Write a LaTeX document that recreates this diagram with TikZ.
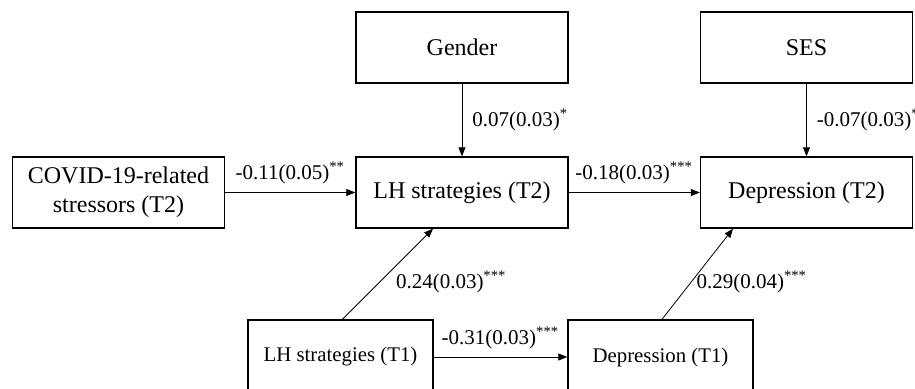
\documentclass[tikz,border=0pt]{standalone}
\usepackage{fontspec}
\setmainfont{Liberation Serif}
\usetikzlibrary{arrows.meta}
\tikzset{
  box/.style={draw,line width=0.7pt,minimum width=106pt,minimum height=35.5pt,align=center,inner sep=2pt,font=\fontsize{12}{14.5}\selectfont},
  lowbox/.style={box,minimum width=92.5pt,minimum height=37pt,font=\fontsize{10.4}{12.5}\selectfont},
  coef/.style={inner sep=1pt,font=\fontsize{10.5}{12}\selectfont},
  >={Triangle[length=4.5pt,width=3.5pt]}
}
\begin{document}
\begin{tikzpicture}[x=0.5pt,y=-0.5pt]
            \useasboundingbox (0,0) rectangle (915,389);
            \node[box] (G) at (462,47.5) {Gender};
            \node[box] (S) at (806.5,47.5) {SES};
            \node[box] (C) at (118.5,192.5) {COVID-19-related\\stressors (T2)};
            \node[box] (L2) at (462,192.5) {LH strategies (T2)};
            \node[box] (D2) at (806.5,192.5) {Depression (T2)};
            \node[lowbox] (L1) at (340.5,357) {LH strategies (T1)};
            \node[lowbox] (D1) at (660.5,357) {Depression (T1)};
            
            \path [->,line width=0.4pt] (G) edge node[coef,right=4pt] {0.07(0.03)\textsuperscript{*}} (L2);
            \path [->,line width=0.4pt] (S) edge node[coef,right=4pt] {-0.07(0.03)\textsuperscript{*}} (D2);
            \path [->,line width=0.4pt] (C) edge node[coef,above=3pt] {-0.11(0.05)\textsuperscript{**}} (L2);
            \path [->,line width=0.4pt] (L2) edge node[coef,above=3pt] {-0.18(0.03)\textsuperscript{***}} (D2);
            \path [->,line width=0.4pt] (L1) edge node[coef,above=3pt] {-0.31(0.03)\textsuperscript{***}} (D1);
            \path [->,line width=0.4pt] ([xshift=1pt]L1.north) edge node[coef,pos=0.41,right=7pt] {0.24(0.03)\textsuperscript{***}} ([xshift=-14.5pt]L2.south);
            \path [->,line width=0.4pt] ([xshift=0.75pt]D1.north) edge node[coef,pos=0.41,right=1.5pt] {0.29(0.04)\textsuperscript{***}} ([xshift=-36.75pt]D2.south);
        \end{tikzpicture}
\end{document}
